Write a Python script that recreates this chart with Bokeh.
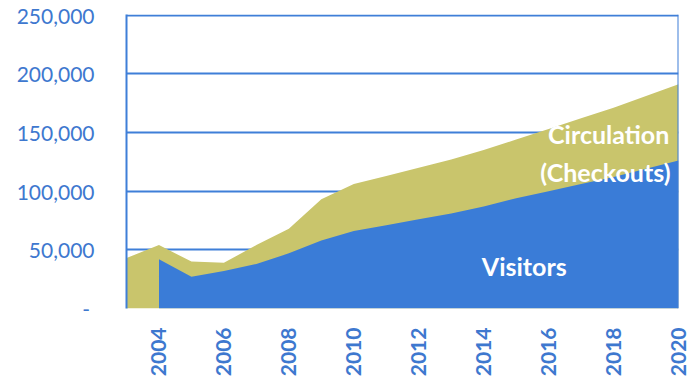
from bokeh.plotting import figure
from bokeh.models import ColumnDataSource, FixedTicker, NumeralTickFormatter, Label, Span, Range1d
from bokeh.embed import file_html
from bokeh.resources import INLINE
import math

years = list(range(2003, 2021))
circulation = [43000, 54000, 40000, 39000, 54000, 68000, 93000, 106000, 113000, 120000,
               127000, 135000, 144000, 153000, 162000, 171000, 181000, 191000]
visitors = [None, 42000, 27000, 32000, 38000, 47000, 58000, 66000, 71000, 76000,
            81000, 87000, 94000, 100000, 106000, 112000, 119000, 126000]
x_ticks = [2004, 2006, 2008, 2010, 2012, 2014, 2016, 2018, 2020]
y_ticks = [0, 50000, 100000, 150000, 200000, 250000]

BLUE = "#3a7cd7"
OLIVE = "#c9c56c"
AXIS_BLUE = "#3f7fd8"
TEXT_BLUE = "#3e78cf"

circ_src = ColumnDataSource(dict(x=years, y=circulation))
vx = [yr for yr, v in zip(years, visitors) if v is not None]
vy = [v for v in visitors if v is not None]
vis_src = ColumnDataSource(dict(x=vx, y=vy))

p = figure(width=695, height=379, output_backend="svg", toolbar_location=None,
           x_range=Range1d(2003, 2020), y_range=Range1d(0, 250500),
           min_border_left=126, min_border_right=17, min_border_top=14, min_border_bottom=71)
p.outline_line_color = None
p.background_fill_color = "white"
p.border_fill_color = "white"

p.varea(x="x", y1=0, y2="y", source=circ_src, fill_color=OLIVE)
p.varea(x="x", y1=0, y2="y", source=vis_src, fill_color=BLUE)

# right border of the plot box
p.add_layout(Span(location=2020, dimension="height", line_color=AXIS_BLUE, line_width=2))

p.xgrid.grid_line_color = None
p.ygrid.grid_line_color = AXIS_BLUE
p.ygrid.grid_line_width = 2
p.ygrid.ticker = FixedTicker(ticks=y_ticks)

xa = p.xaxis[0]
xa.ticker = FixedTicker(ticks=x_ticks)
xa.axis_line_color = None
xa.major_tick_line_color = None
xa.minor_tick_line_color = None
xa.major_label_orientation = math.pi / 2
xa.major_label_standoff = 13
xa.major_label_text_font = "Lato"
xa.major_label_text_font_style = "bold"
xa.major_label_text_font_size = "21px"
xa.major_label_text_color = TEXT_BLUE

ya = p.yaxis[0]
ya.ticker = FixedTicker(ticks=y_ticks)
ya.formatter = NumeralTickFormatter(format="0,0")
ya.major_label_overrides = {0: "-\u2008"}
ya.axis_line_color = AXIS_BLUE
ya.axis_line_width = 2
ya.major_tick_line_color = None
ya.minor_tick_line_color = None
ya.major_label_standoff = 26
ya.major_label_text_font = "Lato"
ya.major_label_text_font_size = "21px"
ya.major_label_text_color = TEXT_BLUE

for txt, x, y in [("Circulation", 2017.85, 149000), ("(Checkouts)", 2017.75, 116500), ("Visitors", 2015.25, 36000)]:
    p.add_layout(Label(x=x, y=y, text=txt, text_align="center", text_baseline="middle",
                       text_color="white", text_font="Lato", text_font_style="bold",
                       text_font_size="25px"))

open("out.html", "w").write(file_html(p, INLINE))
